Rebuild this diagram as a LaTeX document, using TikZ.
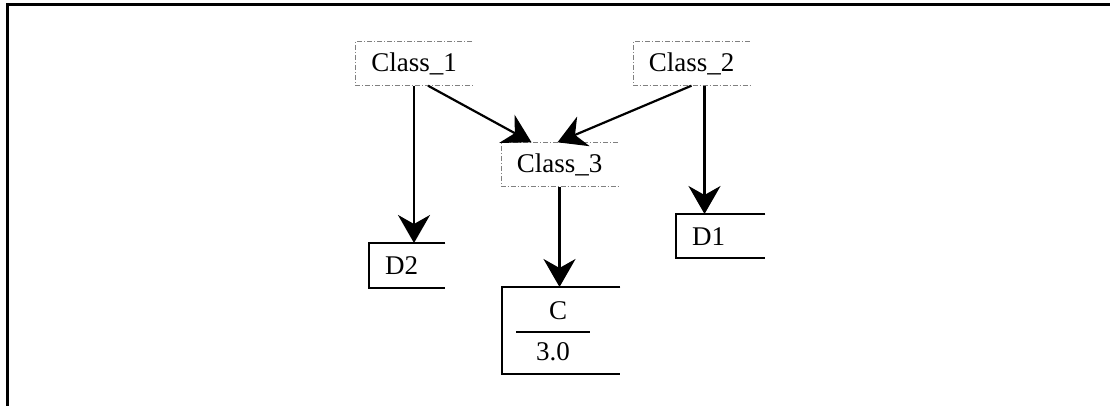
\documentclass[tikz,border=0pt]{standalone}
\usepackage{fontspec}
\setmainfont{Liberation Serif}
\usetikzlibrary{arrows.meta}

\tikzset{
  classbox/.style={minimum width=116pt, minimum height=44pt, inner sep=0pt,
    font=\fontsize{27}{31}\selectfont},
  classline/.style={gray, line width=1.2pt, dash pattern=on 5pt off 2pt on 1pt off 2pt},
  databox/.style={anchor=north west, inner xsep=16pt, inner ysep=0pt, align=left,
    font=\fontsize{27}{31}\selectfont},
  dataline/.style={line width=2pt},
  link/.style={line width=2.2pt, -{Stealth[length=28pt,width=32pt,inset=9pt]}},
}

\begin{document}
\begin{tikzpicture}[x=1pt,y=-1pt]
\useasboundingbox (0,0) rectangle (1110,406);

% frame
\draw[line width=3pt] (7,406) -- (7,5) -- (1110,5);

% classes
\node[classbox] (c1) at (414,63.5) {Class\_1};
\node[classbox] (c2) at (691.5,63.5) {Class\_2};
\node[classbox] (c3) at (559.5,164.5) {Class\_3};
\foreach \n in {c1,c2,c3}
  \draw[classline] (\n.north east) -- (\n.north west) -- (\n.south west) -- (\n.south east);

% data
\node[databox, text width=44pt, minimum height=45pt] (d2) at (369,243) {D2};
\node[databox, text width=57pt, minimum height=44pt] (d1) at (676,214) {D1};
\node[databox, text width=86pt, minimum height=87pt] (c) at (502,287) {};
\node[font=\fontsize{27}{31}\selectfont] (cname) at (558,311) {C};
\node[font=\fontsize{27}{31}\selectfont] (cval) at (553,352) {3.0};
\foreach \n in {d2,d1,c}
  \draw[dataline] (\n.north east) -- (\n.north west) -- (\n.south west) -- (\n.south east);
\draw[dataline] (516,332) -- (590,332);

% links
\draw[link] (c1.south) -- (c1.south |- d2.north);
\draw[link] ([xshift=14pt]c1.south) -- ([xshift=-28pt]c3.north);
\draw[link] (c2.south) -- ([xshift=-2pt]c3.north);
\draw[link] ([xshift=13pt]c2.south) -- ([xshift=13pt]c2.south |- d1.north);
\draw[link] (c3.south) -- (c3.south |- c.north);

\end{tikzpicture}
\end{document}
